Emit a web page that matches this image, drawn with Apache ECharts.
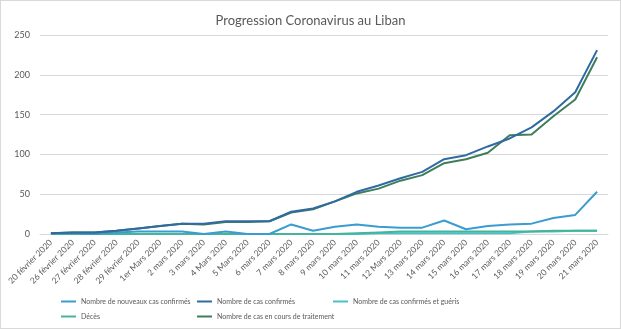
<!DOCTYPE html>
<html><head><meta charset="utf-8">
<script src="https://cdn.jsdelivr.net/npm/echarts@6/dist/echarts.min.js"></script>
<style>html,body{margin:0;padding:0;background:#fff}#c{width:619px;height:327px;border:1px solid #d9d9d9}</style>
</head><body><div id="c"></div>
<script>
const categories = ["20 février 2020","26 février 2020","27 février 2020","28 février 2020","29 février 2020","1er Mars 2020","2 mars 2020","3 mars 2020","4 Mars 2020","5 Mars 2020","6 mars 2020","7 mars 2020","8 mars 2020","9 mars 2020","10 mars 2020","11 mars 2020","12 Mars 2020","13 mars 2020","14 mars 2020","15 mars 2020","16 mars 2020","17 mars 2020","18 mars 2020","19 mars 2020","20 mars 2020","21 mars 2020"];
const nouveauxCas = [1,1,0,2,3,3,3,0,3,0,0,12,4,9,12,9,8,8,17,6,10,12,13,20,24,53];
const casConfirmes = [1,2,2,4,7,10,13,13,16,16,16,28,32,41,53,61,70,78,94,99,110,120,134,154,178,231];
const casGueris = [0,0,0,0,0,0,0,0,0,0,0,0,0,0,0,1,1,1,1,1,1,1,3,3,4,4];
const deces = [0,0,0,0,0,0,0,0,0,0,0,0,0,0,1,2,3,3,3,3,3,3,3,4,4,4];
const enTraitement = [1,2,2,4,7,10,13,12,15,15,16,27,31,41,51,57,67,74,89,94,102,124,125,148,169,222];
const yTicks = [0,50,100,150,200,250];

const names = ["Nombre de nouveaux cas confirmés","Nombre de cas confirmés","Nombre de cas confirmés et guéris","Décès","Nombre de cas en cours de traitement"];
const colors = ["#3a9ccf","#2f6ba2","#48c0c8","#44b59c","#3f7d5c"];
const datas = [nouveauxCas, casConfirmes, casGueris, deces, enTraitement];
const legendPos = [[60,297],[196,297],[332,297],[60,312],[196,312]];
const font = "Lato, 'Noto Sans', sans-serif";

const chart = echarts.init(document.getElementById('c'));
chart.setOption({
  animation: false,
  title: {text: "Progression Coronavirus au Liban", left: 'center', top: 8,
    textStyle: {fontFamily: font, fontSize: 13, fontWeight: 'normal', color: '#595959'}},
  grid: {left: 39, right: 12, top: 34, bottom: 94},
  legend: names.map((n,i)=>({
    data:[n], left: legendPos[i][0], top: legendPos[i][1], icon: 'rect', itemWidth: 15, itemHeight: 2, padding: 0,
    textStyle: {fontFamily: font, fontSize: 7, color: '#595959'}
  })),
  xAxis: {type: 'category', data: categories, boundaryGap: true,
    axisLine: {lineStyle: {color: '#d9d9d9'}}, axisTick: {show: false},
    axisLabel: {interval: 0, rotate: 45, fontFamily: font, fontSize: 8.5, color: '#595959', margin: 7}},
  yAxis: {type: 'value', min: yTicks[0], max: yTicks[yTicks.length-1], interval: 50,
    axisLine: {show: false}, axisTick: {show: false},
    splitLine: {lineStyle: {color: '#d9d9d9'}},
    axisLabel: {fontFamily: font, fontSize: 9, color: '#595959', margin: 10}},
  series: names.map((n,i)=>({
    name: n, type: 'line', data: datas[i], showSymbol: false, symbol: 'none',
    lineStyle: {width: 2, color: colors[i]}, itemStyle: {color: colors[i]}, z: [3,4,2,2,3][i]
  }))
});
</script></body></html>
